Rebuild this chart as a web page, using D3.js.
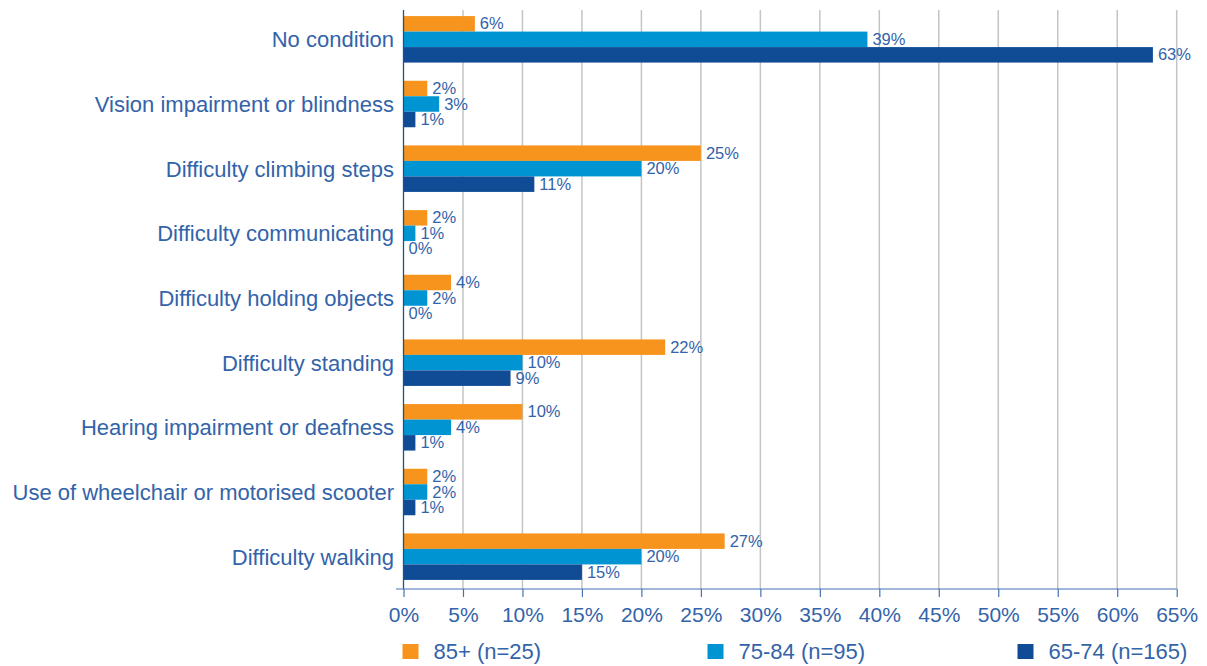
<!DOCTYPE html>
<html>
<head>
<meta charset="utf-8">
<script src="https://cdn.jsdelivr.net/npm/d3@7"></script>
<style>
  html, body { margin: 0; padding: 0; background: #fff; }
  svg { display: block; font-family: "Liberation Sans", Arial, Helvetica, sans-serif; }
</style>
</head>
<body>
<svg id="chart" width="1207" height="666"></svg>
<script>
const categories = [
  "No condition",
  "Vision impairment or blindness",
  "Difficulty climbing steps",
  "Difficulty communicating",
  "Difficulty holding objects",
  "Difficulty standing",
  "Hearing impairment or deafness",
  "Use of wheelchair or motorised scooter",
  "Difficulty walking"
];
const seriesNames = ["85+ (n=25)", "75-84 (n=95)", "65-74 (n=165)"];
const values85 = [6, 2, 25, 2, 4, 22, 10, 2, 27];
const values75 = [39, 3, 20, 1, 2, 10, 4, 2, 20];
const values65 = [63, 1, 11, 0, 0, 9, 1, 1, 15];
const xTicks = [0, 5, 10, 15, 20, 25, 30, 35, 40, 45, 50, 55, 60, 65];
const colors = ["#F7941E", "#0095D2", "#0F4C95"];

const textColor = "#3363A9";
const svg = d3.select("#chart");

const x = d3.scaleLinear().domain([0, 65]).range([403.5, 1176.7]);
const y = d3.scaleBand().domain(categories).range([7, 589]).padding(0);
const barH = 15.5;
const series = [values85, values75, values65];
const sub = d3.scaleBand().domain([0, 1, 2]).range([-barH * 1.5, barH * 1.5]);

// gridlines
svg.append("g").selectAll("line")
  .data(xTicks.filter(t => t > 0))
  .join("line")
  .attr("x1", d => x(d)).attr("x2", d => x(d))
  .attr("y1", 10).attr("y2", 589)
  .attr("stroke", "#c4c4c4").attr("stroke-width", 1.5);

// bars
const groups = svg.append("g").selectAll("g")
  .data(categories)
  .join("g")
  .attr("transform", d => `translate(0,${y(d) + y.bandwidth() / 2})`);

series.forEach((vals, si) => {
  groups.append("rect")
    .attr("x", x(0))
    .attr("y", sub(si))
    .attr("width", (d, i) => x(vals[i]) - x(0))
    .attr("height", sub.bandwidth())
    .attr("fill", colors[si]);
  groups.append("text")
    .attr("x", (d, i) => x(vals[i]) + 5)
    .attr("y", sub(si) + sub.bandwidth() / 2 + 5.5)
    .attr("font-size", 16.5)
    .attr("fill", textColor)
    .text((d, i) => vals[i] + "%");
});

// y axis (category labels)
const yAxis = svg.append("g")
  .attr("transform", `translate(${x(0)},0)`)
  .call(d3.axisLeft(y).tickSize(0).tickPadding(9.5));
yAxis.select(".domain").remove();
yAxis.selectAll("text")
  .attr("font-size", 22)
  .attr("font-family", "'Liberation Sans', Arial, sans-serif")
  .attr("fill", textColor)
  .attr("dy", "0.36em");

svg.append("line")
  .attr("x1", x(0)).attr("x2", x(0))
  .attr("y1", 10).attr("y2", 589)
  .attr("stroke", "#1F4F93").attr("stroke-width", 1.3);

// x axis
const xAxis = svg.append("g")
  .attr("transform", "translate(0,589)")
  .call(d3.axisBottom(x).tickValues(xTicks).tickFormat(d => d + "%").tickSize(8).tickPadding(10));
xAxis.select(".domain").remove();
xAxis.selectAll("line").attr("stroke", "#4472B6").attr("stroke-width", 1.2);
xAxis.selectAll("text")
  .attr("font-size", 21)
  .attr("font-family", "'Liberation Sans', Arial, sans-serif")
  .attr("fill", textColor)
  .attr("y", 32.5).attr("dy", 0);
svg.append("line")
  .attr("x1", 396).attr("x2", x(65))
  .attr("y1", 589).attr("y2", 589)
  .attr("stroke", "#4472B6").attr("stroke-width", 1.2);

// legend
const legendX = [402.5, 707.5, 1017.5];
const legend = svg.append("g").selectAll("g")
  .data(seriesNames)
  .join("g")
  .attr("transform", (d, i) => `translate(${legendX[i]},644)`);
legend.append("rect")
  .attr("width", 16).attr("height", 15)
  .attr("fill", (d, i) => colors[i]);
legend.append("text")
  .attr("x", 31).attr("y", 15)
  .attr("font-size", 22)
  .attr("fill", textColor)
  .text(d => d);
</script>
</body>
</html>
